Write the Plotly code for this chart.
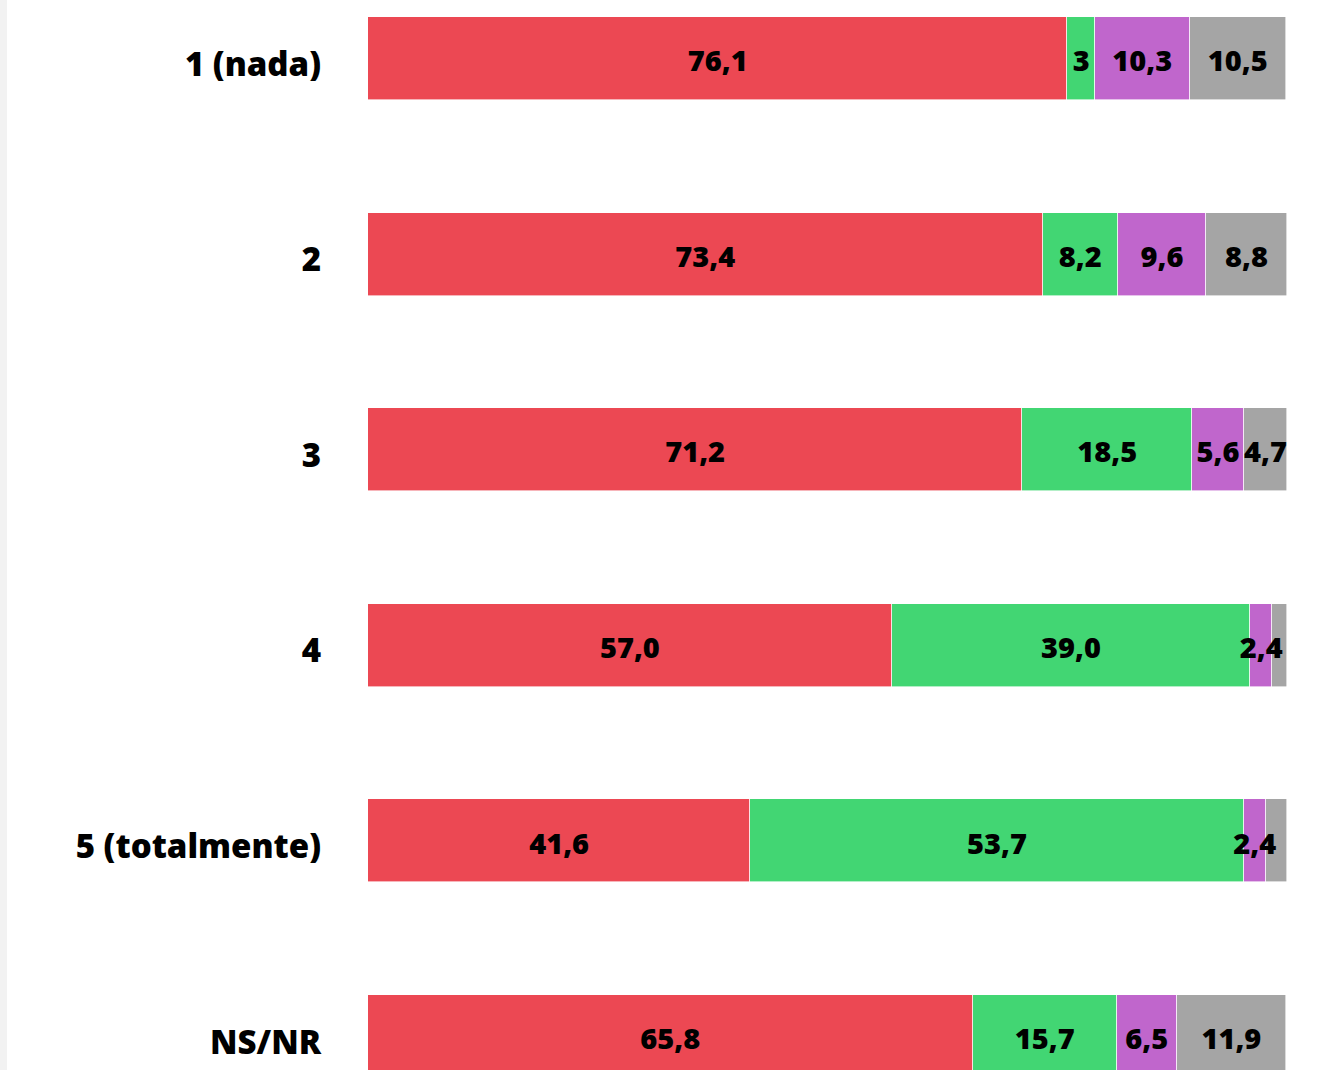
import plotly.graph_objects as go

# Response categories (rows, top to bottom)
categories = ["1 (nada)", "2", "3", "4", "5 (totalmente)", "NS/NR"]

# Percentage shares per row for each of the four stacked series
serie_roja = [76.1, 73.4, 71.2, 57.0, 41.6, 65.8]
serie_verde = [3.0, 8.2, 18.5, 39.0, 53.7, 15.7]
serie_morada = [10.3, 9.6, 5.6, 2.4, 2.4, 6.5]
serie_gris = [10.5, 8.8, 4.7, 1.6, 2.3, 11.9]

# Labels printed on each segment (empty where the segment is too thin)
etiquetas_roja = ["76,1", "73,4", "71,2", "57,0", "41,6", "65,8"]
etiquetas_verde = ["3", "8,2", "18,5", "39,0", "53,7", "15,7"]
etiquetas_morada = ["10,3", "9,6", "5,6", "2,4", "2,4", "6,5"]
etiquetas_gris = ["10,5", "8,8", "4,7", "", "", "11,9"]

colores = ["#EC4853", "#42D673", "#C066CC", "#A5A5A5"]
series = [
    (serie_roja, etiquetas_roja),
    (serie_verde, etiquetas_verde),
    (serie_morada, etiquetas_morada),
    (serie_gris, etiquetas_gris),
]

posiciones = list(range(len(categories)))
fuente = "'Open Sans', Lato, sans-serif"

# Row axis range for the bars, and a slightly shifted twin for the text
rango_barras = [5.171, -0.299]
desfase_texto = 0.028
rango_texto = [rango_barras[0] - desfase_texto, rango_barras[1] - desfase_texto]

fig = go.Figure()

# Stacked bars
for (valores, _), color in zip(series, colores):
    fig.add_trace(go.Bar(
        x=valores,
        y=posiciones,
        orientation="h",
        width=0.424,
        marker=dict(color=color, line=dict(color="#FFFFFF", width=0.6)),
        hoverinfo="skip",
        showlegend=False,
    ))

# Value labels drawn on top of all segments, centred on each segment
base = [0.0] * len(categories)
for valores, etiquetas in series:
    centros = [b + v / 2 for b, v in zip(base, valores)]
    fig.add_trace(go.Scatter(
        x=centros,
        y=posiciones,
        yaxis="y2",
        mode="text",
        text=etiquetas,
        textposition="middle center",
        textfont=dict(family=fuente, size=29, color="#000000", weight=800),
        cliponaxis=False,
        hoverinfo="skip",
        showlegend=False,
    ))
    base = [b + v for b, v in zip(base, valores)]

fig.update_layout(
    barmode="stack",
    width=1343,
    height=1070,
    margin=dict(l=368, r=56, t=0, b=0),
    paper_bgcolor="#FFFFFF",
    plot_bgcolor="#FFFFFF",
    bargap=0,
    shapes=[dict(
        type="rect", xref="paper", yref="paper",
        x0=-368 / 919, x1=-361 / 919, y0=0, y1=1,
        fillcolor="#F2F2F2", line=dict(width=0), layer="below",
    )],
    yaxis=dict(
        range=rango_barras,
        showticklabels=False,
        ticks="",
        showgrid=False,
        zeroline=False,
        showline=False,
    ),
    yaxis2=dict(
        overlaying="y",
        side="left",
        range=rango_texto,
        tickmode="array",
        tickvals=posiciones,
        ticktext=categories,
        ticks="",
        showgrid=False,
        zeroline=False,
        showline=False,
        ticklabelstandoff=46,
        tickfont=dict(family=fuente, size=33, color="#000000", weight=800),
    ),
)
fig.update_xaxes(range=[0, 100], visible=False, fixedrange=True)

fig.write_html("out.html")
